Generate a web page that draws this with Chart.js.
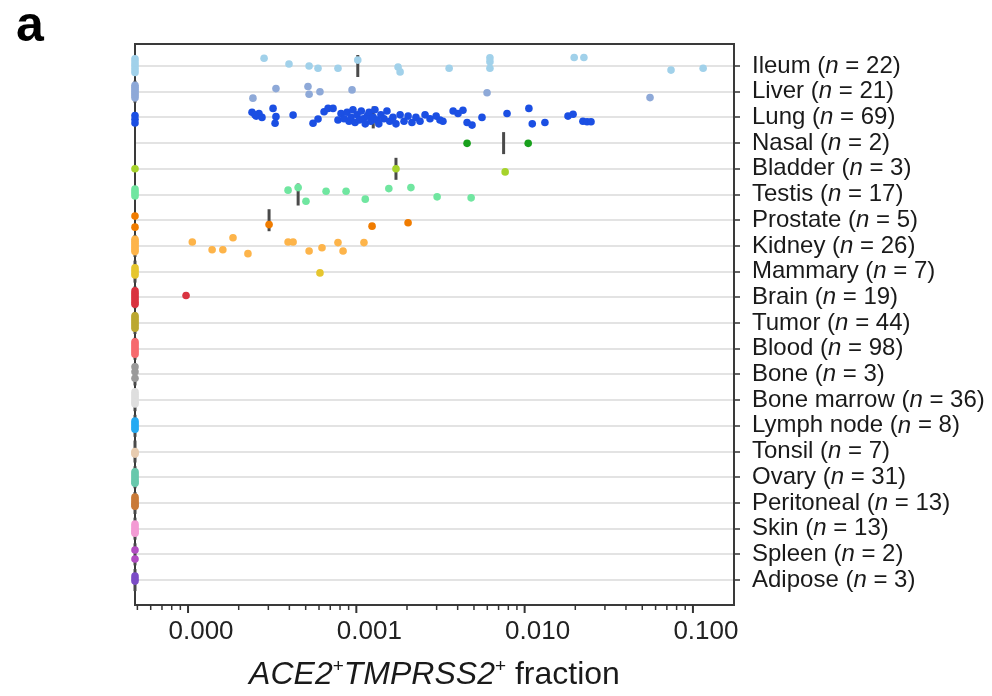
<!DOCTYPE html>
<html><head><meta charset="utf-8">
<script src="https://cdn.jsdelivr.net/npm/chart.js@4.4.1/dist/chart.umd.min.js"></script>
<style>html,body{margin:0;padding:0;background:#fff;}#wrap{width:992px;height:696px;position:relative;}</style>
</head><body><div id="wrap"><canvas id="c"></canvas></div>
<script>
// ---------- data ----------
const CATEGORIES = ['Ileum','Liver','Lung','Nasal','Bladder','Testis','Prostate','Kidney','Mammary','Brain','Tumor','Blood','Bone','Bone marrow','Lymph node','Tonsil','Ovary','Peritoneal','Skin','Spleen','Adipose'];
const SAMPLE_COUNTS = [22,21,69,2,3,17,5,26,7,19,44,98,3,36,8,7,31,13,13,2,3];
const COLORS = ['#a1d1ea','#8ea9d8','#1b4fe3','#18a01c','#a6d32b','#70e6a0','#f07c00','#fdb44a','#e6c62e','#d93340','#bba831','#f66a6e','#9a9a9a','#dedede','#25aaf2','#e8ccb0','#68c8ac','#c97a38','#f39bd4','#b24cc2','#7b4cc6'];
const X_TICKS = [0.0001, 0.001, 0.01, 0.1];
const X_MIN = 4.84e-5, X_MAX = 0.1754;

// non-zero sample fractions (x) and their vertical jitter (row units)
const ILEUM_X = [2.83e-4,3.98e-4,5.24e-4,5.92e-4,7.78e-4,1.02e-3,1.77e-3,1.82e-3,3.56e-3,6.22e-3,6.22e-3,6.22e-3,0.0197,0.0225,0.0741,0.115];
const ILEUM_J = [-0.30,-0.08,0,0.09,0.09,-0.23,0.04,0.23,0.09,-0.32,-0.17,0.09,-0.33,-0.33,0.16,0.09];
const LIVER_X = [2.43e-4,3.33e-4,5.16e-4,5.24e-4,6.08e-4,9.43e-4,5.98e-3,0.0556];
const LIVER_J = [0.25,-0.12,-0.2,0.1,0,-0.07,0.04,0.23];
const LUNG_X = [2.40e-4,2.54e-4,2.64e-4,2.75e-4,2.50e-4,3.20e-4,3.33e-4,3.29e-4,4.21e-4,5.53e-4,5.92e-4,6.43e-4,6.79e-4,7.27e-4,
  7.78e-4,8.11e-4,8.45e-4,8.81e-4,9.05e-4,9.30e-4,9.55e-4,9.82e-4,1.01e-3,1.04e-3,
  1.07e-3,1.10e-3,1.13e-3,1.16e-3,1.19e-3,1.22e-3,1.26e-3,1.29e-3,1.33e-3,1.36e-3,
  1.40e-3,1.46e-3,1.52e-3,1.58e-3,1.65e-3,1.72e-3,1.82e-3,1.92e-3,2.03e-3,2.14e-3,
  2.26e-3,2.39e-3,2.56e-3,2.74e-3,2.98e-3,3.14e-3,3.27e-3,
  3.76e-3,4.02e-3,4.30e-3,4.55e-3,4.87e-3,5.58e-3,7.86e-3,1.06e-2,1.11e-2,1.32e-2,1.81e-2,1.94e-2,2.22e-2,2.35e-2,2.48e-2];
const LUNG_J = [-0.2,-0.05,-0.15,0,-0.1,-0.35,-0.03,0.23,-0.09,0.23,0.06,-0.22,-0.35,-0.35,
  0.1,-0.15,0.05,-0.2,0.15,0,-0.3,0.2,-0.1,0.1,
  -0.25,0.05,0.25,-0.05,-0.2,0.15,0,-0.3,0.1,0.25,
  -0.1,0.05,-0.25,0.15,0,0.25,-0.1,0.15,-0.05,0.2,
  0,0.15,-0.1,0.05,-0.05,0.1,0.15,
  -0.25,-0.15,-0.28,0.2,0.3,0,-0.15,-0.35,0.25,0.2,-0.05,-0.12,0.15,0.17,0.17];
const NASAL_X = [4.55e-3,1.05e-2];
const NASAL_J = [0.01,0.01];
const BLADDER_X = [1.72e-3,7.66e-3];
const BLADDER_J = [0,0.12];
const TESTIS_X = [3.93e-4,4.51e-4,5.02e-4,6.61e-4,8.69e-4,1.13e-3,1.56e-3,2.11e-3,3.02e-3,4.81e-3];
const TESTIS_J = [-0.17,-0.27,0.26,-0.13,-0.13,0.18,-0.23,-0.27,0.09,0.13];
const PROSTATE_X = [3.03e-4,1.24e-3,2.03e-3];
const PROSTATE_J = [0.17,0.23,0.1];
const KIDNEY_X = [1.06e-4,1.39e-4,1.61e-4,1.85e-4,2.27e-4,3.93e-4,4.21e-4,5.24e-4,6.25e-4,7.78e-4,8.34e-4,1.11e-3];
const KIDNEY_J = [-0.15,0.15,0.15,-0.32,0.3,-0.15,-0.15,0.2,0.07,-0.13,0.2,-0.13];
const MAMMARY_X = [6.08e-4];
const MAMMARY_J = [0.05];
const BRAIN_X = [9.73e-5];
const BRAIN_J = [-0.07];

const NONZERO_X = [ILEUM_X,LIVER_X,LUNG_X,NASAL_X,BLADDER_X,TESTIS_X,PROSTATE_X,KIDNEY_X,MAMMARY_X,BRAIN_X];
const NONZERO_J = [ILEUM_J,LIVER_J,LUNG_J,NASAL_J,BLADDER_J,TESTIS_J,PROSTATE_J,KIDNEY_J,MAMMARY_J,BRAIN_J];

// jitter of the visible zero-fraction dots (stacked on the left axis)
const ZERO_JITTER = [
  [-0.28,-0.17,-0.06,0.04,0.15,0.25],
  [-0.25,-0.17,-0.09,-0.01,0.07,0.15,0.24],
  [-0.07,0.07,0.22],
  [],
  [0],
  [-0.21,-0.12,-0.03,0.06],
  [-0.16,0.27],
  [-0.26,-0.18,-0.1,-0.02,0.06,0.14,0.22],
  [-0.15,-0.05,0.05,0.13],
  [-0.25,-0.16,-0.07,0.02,0.1,0.19,0.27],
  [-0.28,-0.2,-0.12,-0.04,0.04,0.12,0.2],
  [-0.27,-0.19,-0.11,-0.03,0.05,0.13,0.21],
  [-0.3,-0.1,0.15],
  [-0.32,-0.24,-0.16,-0.08,0,0.08,0.15],
  [-0.19,-0.11,-0.03,0.05,0.13],
  [0,0.05,0.1],
  [-0.21,-0.13,-0.05,0.03,0.11,0.18,0.23],
  [-0.23,-0.15,-0.07,0.01,0.07,0.13],
  [-0.18,-0.1,-0.02,0.06,0.12,0.18],
  [-0.17,0.18],
  [-0.16,-0.05,0.04]
];
const MEDIANS = [1.02e-3,0,1.26e-3,7.5e-3,1.72e-3,4.51e-4,3.03e-4,0,0,0,0,0,0,0,0,0,0,0,0,0,0];

// ---------- build ----------
const FONT = "'Liberation Sans', Arial, Helvetica, sans-serif";
const onAxis = v => (v === 0 ? X_MIN : v); // zero fractions sit on the left edge (symlog floor)

const datasets = CATEGORIES.map((name, i) => {
  const pts = [];
  (NONZERO_X[i] || []).forEach((v, k) => pts.push({x: v, y: i + NONZERO_J[i][k]}));
  ZERO_JITTER[i].forEach(j => pts.push({x: onAxis(0), y: i + j}));
  return {label: name, data: pts, pointBackgroundColor: COLORS[i], pointBorderColor: COLORS[i],
    pointBorderWidth: 0, pointRadius: 3.8, showLine: false, clip: false, order: 1};
});
datasets.push({label: 'median', data: MEDIANS.map((m, i) => ({x: onAxis(m), y: i})),
  pointStyle: 'line', pointRotation: 90, pointRadius: 11, pointBorderColor: '#4a4a4a',
  pointBorderWidth: 3, showLine: false, clip: false, order: 2});

const framePlugin = {
  id: 'frame',
  beforeDatasetsDraw(chart) {
    const {ctx, chartArea: a} = chart;
    ctx.save();
    ctx.strokeStyle = '#3a3a3a'; ctx.lineWidth = 2;
    ctx.strokeRect(a.left, a.top, a.right - a.left, a.bottom - a.top);
    // x tick marks (major + minor)
    const xs = chart.scales.x;
    ctx.strokeStyle = '#333';
    for (let d = -5; d <= -1; d++) {
      for (let m = 1; m <= 9; m++) {
        const v = m * Math.pow(10, d);
        if (v < X_MIN || v > X_MAX) continue;
        const px = xs.getPixelForValue(v);
        ctx.lineWidth = m === 1 ? 2 : 1.5;
        ctx.beginPath(); ctx.moveTo(px, a.bottom); ctx.lineTo(px, a.bottom + (m === 1 ? 8 : 5)); ctx.stroke();
      }
    }
    ctx.restore();
  },
  afterDraw(chart) {
    const {ctx, chartArea: a} = chart;
    const ys = chart.scales.y;
    ctx.save();
    ctx.fillStyle = '#1a1a1a';
    ctx.textBaseline = 'middle';
    CATEGORIES.forEach((name, i) => {
      const y = ys.getPixelForValue(i);
      let x = a.right + 18;
      const parts = [[name + ' (', false], ['n', true], [' = ' + SAMPLE_COUNTS[i] + ')', false]];
      parts.forEach(([t, it]) => {
        ctx.font = (it ? 'italic ' : '') + '24px ' + FONT;
        ctx.fillText(t, x, y);
        x += ctx.measureText(t).width;
      });
    });
    // x-axis title
    const tparts = [['ACE2', 'italic', 32, 0], ['+', '', 19, -12], ['TMPRSS2', 'italic', 32, 0], ['+', '', 19, -12], [' fraction', '', 32, 0]];
    ctx.textBaseline = 'alphabetic';
    let w = 0;
    tparts.forEach(([t, st, sz]) => { ctx.font = st + ' ' + sz + 'px ' + FONT; w += ctx.measureText(t).width; });
    let tx = (a.left + a.right) / 2 - w / 2;
    const ty = 684;
    tparts.forEach(([t, st, sz, dy]) => {
      ctx.font = st + ' ' + sz + 'px ' + FONT;
      ctx.fillText(t, tx, ty + dy);
      tx += ctx.measureText(t).width;
    });
    // panel letter
    ctx.fillStyle = '#000';
    ctx.font = 'bold 50px ' + FONT;
    ctx.fillText('a', 16, 41);
    ctx.restore();
  }
};

new Chart(document.getElementById('c'), {
  type: 'scatter',
  data: {datasets},
  options: {
    responsive: true, maintainAspectRatio: false, animation: false, events: [],
    layout: {padding: {left: 135, top: 44, right: 0, bottom: 0}},
    plugins: {legend: {display: false}, tooltip: {enabled: false}},
    scales: {
      x: {
        type: 'logarithmic', min: X_MIN, max: X_MAX,
        afterBuildTicks: s => { s.ticks = X_TICKS.map(v => ({value: v})); },
        ticks: {callback: v => Number(v).toFixed(3), font: {family: FONT, size: 26}, color: '#222',
          padding: 11, labelOffset: 13, maxRotation: 0, autoSkip: false},
        grid: {display: false, drawTicks: false},
        border: {display: false},
        afterFit: s => { s.height = 91; }
      },
      y: {
        type: 'linear', position: 'right', reverse: true, min: -0.856, max: 20.97,
        afterBuildTicks: s => { s.ticks = CATEGORIES.map((_, i) => ({value: i})); },
        ticks: {display: false},
        grid: {color: '#e3e3e3', lineWidth: 2, drawTicks: true, tickLength: 6, tickColor: '#333', tickWidth: 1.5},
        border: {display: false},
        afterFit: s => { s.width = 258; }
      }
    }
  },
  plugins: [framePlugin]
});
</script></body></html>
